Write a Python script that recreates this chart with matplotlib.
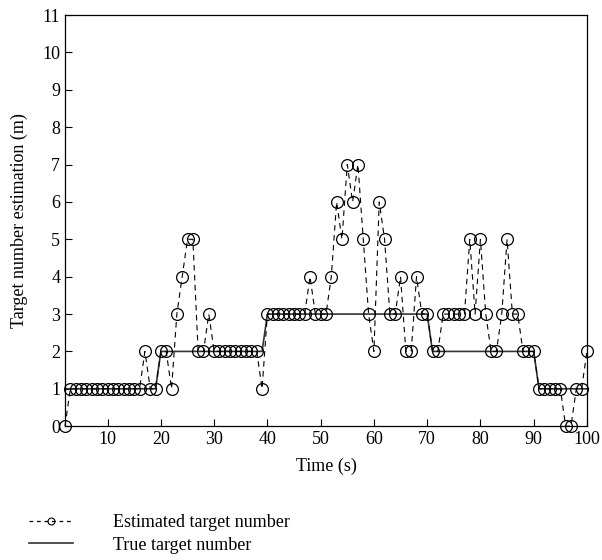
import matplotlib
matplotlib.use("Agg")
import matplotlib.pyplot as plt
from matplotlib.lines import Line2D

plt.rcParams['font.family'] = ['Liberation Serif', 'DejaVu Serif']

time_s = list(range(2, 101))
estimated = [0] + [1]*14 + [2, 1, 1, 2, 2, 1, 3, 4, 5, 5, 2, 2, 3] + [2]*9 + [1] \
    + [3]*8 + [4, 3, 3, 3, 4, 6, 5, 7, 6, 7, 5, 3, 2, 6, 5, 3, 3, 4, 2, 2, 4, 3, 3, 2, 2] \
    + [3]*5 + [5, 3, 5, 3, 2, 2, 3, 5, 3, 3, 2, 2, 2] + [1]*5 + [0, 0, 1, 1, 2]
true_num = [1]*18 + [2]*20 + [3]*31 + [2]*20 + [1]*10

fig = plt.figure(figsize=(6.02, 5.6), dpi=100)
ax = fig.add_axes([0.108, 0.239, 0.867, 0.734])

ax.plot(time_s, true_num, color='#333333', lw=1.2, label='True target number', zorder=2)
ax.plot(time_s, estimated, color='black', lw=0.8, ls=(0, (5, 4)), marker='o',
        markersize=8.5, markerfacecolor='none', markeredgecolor='black',
        markeredgewidth=0.9, label='Estimated target number', zorder=3, clip_on=False)

ax.set_xlim(2, 100)
ax.set_ylim(0, 11)
ax.set_xticks(range(10, 101, 10))
ax.set_yticks(range(0, 12))
ax.tick_params(direction='in', length=5, labelsize=13, width=0.8)
for s in ax.spines.values():
    s.set_linewidth(0.9)
ax.set_xlabel('Time (s)', fontsize=13, labelpad=7)
ax.set_ylabel('Target number estimation (m)', fontsize=13, labelpad=10)

h_est = Line2D([], [], color='black', lw=0.9, ls=(0, (3, 3)), marker='o', markersize=5,
               markerfacecolor='none', markeredgecolor='black', markeredgewidth=0.8)
h_true = Line2D([], [], color='#333333', lw=1.2)
fig.legend([h_est, h_true], ['Estimated target number', 'True target number'],
           loc='upper left', bbox_to_anchor=(0.022, 0.111), frameon=False,
           fontsize=13, handlelength=2.4, handletextpad=2.2, labelspacing=0.3)

fig.savefig('out.png', dpi=100)
